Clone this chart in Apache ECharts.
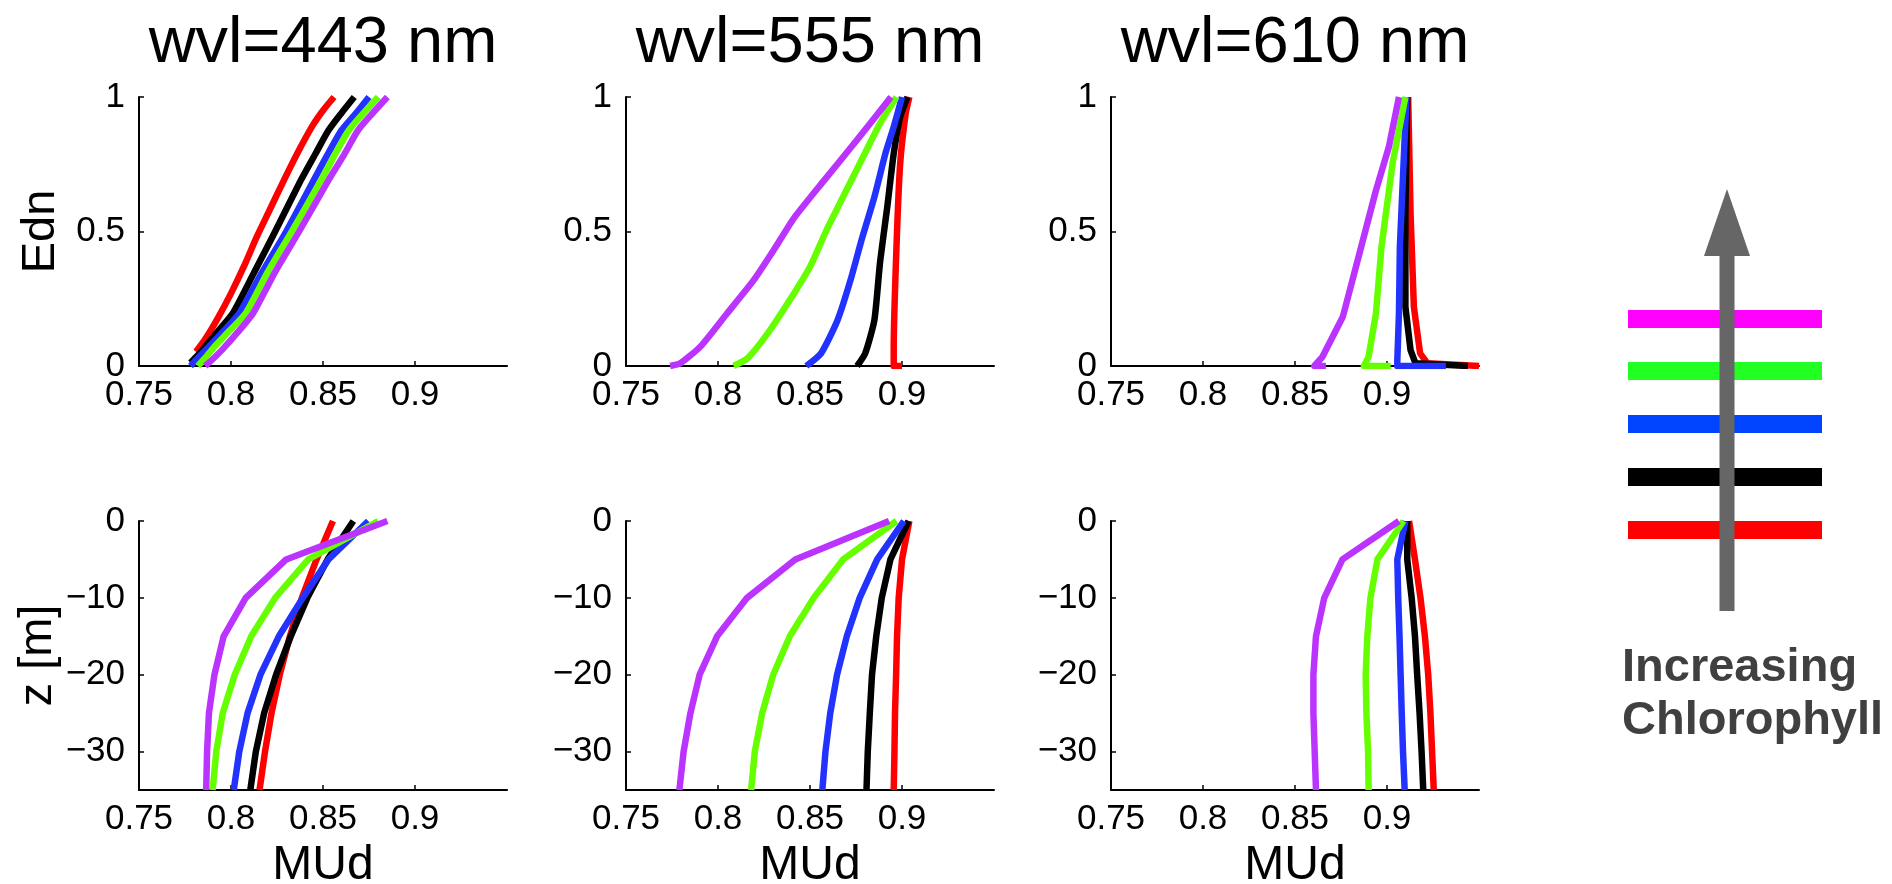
<!DOCTYPE html>
<html><head><meta charset="utf-8">
<script src="https://cdn.jsdelivr.net/npm/echarts@6/dist/echarts.min.js"></script>
<style>html,body{margin:0;padding:0;background:#fff}#c{width:1892px;height:884px}</style>
</head><body><div id="c"></div>
<script>
// ---------------- data ----------------
const panelTitles = ['wvl=443 nm', 'wvl=555 nm', 'wvl=610 nm'];
const chlLevels = ['Chl level 1', 'Chl level 2', 'Chl level 3', 'Chl level 4', 'Chl level 5'];
const lineColors = ['#ff0000', '#000000', '#2233ff', '#66ff00', '#bb33ff'];
const legendColors = ['#ff0000', '#000000', '#0044ff', '#22ff22', '#ff00ff'];
const legendLabel = ['Increasing', 'Chlorophyll'];
const mudTicks = [0.75, 0.8, 0.85, 0.9];
const ednTicks = [0, 0.5, 1];
const depthTicks = [0, -10, -20, -30];
const depth = [0, -5, -10, -15, -20, -25, -30, -35];

// Edn vs MUd : [MUd, Edn] pairs, one list per chlorophyll level (red, black, blue, green, purple)
const ednMud443 = [
  [[0.856,1.0],[0.850,0.95],[0.844,0.89],[0.836,0.79],[0.828,0.68],[0.821,0.58],[0.814,0.48],[0.807,0.37],[0.800,0.27],[0.793,0.18],[0.786,0.10],[0.781,0.053]],
  [[0.867,1.0],[0.860,0.94],[0.853,0.876],[0.846,0.79],[0.838,0.691],[0.824,0.5],[0.812,0.34],[0.801,0.196],[0.793,0.13],[0.786,0.072],[0.782,0.04],[0.778,0.012]],
  [[0.875,1.0],[0.868,0.94],[0.860,0.876],[0.852,0.78],[0.845,0.691],[0.830,0.5],[0.817,0.35],[0.8045,0.196],[0.796,0.13],[0.788,0.072],[0.782,0.03],[0.778,0]],
  [[0.880,1.0],[0.872,0.94],[0.864,0.876],[0.856,0.78],[0.849,0.691],[0.833,0.5],[0.820,0.35],[0.808,0.196],[0.799,0.13],[0.791,0.072],[0.786,0.03],[0.782,0]],
  [[0.885,1.0],[0.877,0.94],[0.869,0.876],[0.861,0.78],[0.853,0.691],[0.837,0.5],[0.824,0.35],[0.812,0.196],[0.803,0.12],[0.795,0.059],[0.790,0.025],[0.786,0]]
];
const ednMud555 = [
  [[0.904,1.0],[0.902,0.938],[0.899,0.752],[0.897,0.443],[0.8955,0.072],[0.8955,0.0],[0.900,0.0]],
  [[0.903,1.0],[0.899,0.926],[0.8955,0.790],[0.892,0.592],[0.888,0.381],[0.885,0.171],[0.880,0.047],[0.8756,0]],
  [[0.900,1.0],[0.8955,0.889],[0.891,0.790],[0.885,0.629],[0.878,0.468],[0.872,0.319],[0.865,0.171],[0.856,0.047],[0.848,0]],
  [[0.897,1.0],[0.888,0.901],[0.877,0.752],[0.868,0.629],[0.859,0.505],[0.850,0.369],[0.839,0.245],[0.827,0.121],[0.816,0.028],[0.8085,0]],
  [[0.894,1.0],[0.8754,0.839],[0.8578,0.691],[0.8411,0.548],[0.8303,0.431],[0.8194,0.319],[0.805,0.196],[0.7904,0.072],[0.7795,0.01],[0.774,0]]
];
const ednMud610 = [
  [[0.9115,1.0],[0.9128,0.567],[0.9146,0.220],[0.918,0.047],[0.922,0.01],[0.950,0]],
  [[0.911,1.0],[0.910,0.567],[0.910,0.220],[0.9128,0.059],[0.9155,0.01],[0.944,0]],
  [[0.9106,1.0],[0.909,0.752],[0.907,0.443],[0.9065,0.196],[0.9056,0.02],[0.9056,0],[0.932,0]],
  [[0.910,1.0],[0.903,0.752],[0.897,0.443],[0.894,0.196],[0.890,0.035],[0.8875,0],[0.902,0]],
  [[0.9065,1.0],[0.901,0.814],[0.894,0.653],[0.885,0.418],[0.876,0.183],[0.865,0.035],[0.8605,0],[0.8668,0]]
];

// MUd at each depth in `depth` (red, black, blue, green, purple)
const zMud443 = [
  [0.8554,0.8465,0.8385,0.832,0.8265,0.822,0.8185,0.8155],
  [0.8665,0.8525,0.8415,0.8325,0.8245,0.818,0.8135,0.8105],
  [0.8746,0.853,0.839,0.826,0.816,0.809,0.8045,0.8015],
  [0.880,0.842,0.824,0.811,0.802,0.7955,0.792,0.790],
  [0.885,0.830,0.808,0.796,0.791,0.788,0.787,0.7865]
];
const zMud555 = [
  [0.904,0.900,0.8982,0.8973,0.8968,0.8962,0.8959,0.8955],
  [0.9036,0.8937,0.889,0.886,0.8837,0.8825,0.8814,0.8807],
  [0.901,0.8865,0.877,0.870,0.8647,0.861,0.8584,0.8567],
  [0.897,0.868,0.852,0.839,0.830,0.824,0.820,0.818],
  [0.893,0.842,0.8158,0.7995,0.790,0.785,0.7813,0.779]
];
const zMud610 = [
  [0.912,0.9152,0.9182,0.9206,0.9224,0.9236,0.9245,0.9254],
  [0.911,0.911,0.9134,0.9152,0.9164,0.9177,0.9188,0.9197],
  [0.910,0.9056,0.9061,0.9068,0.9074,0.908,0.9087,0.9096],
  [0.909,0.8948,0.891,0.8893,0.8884,0.8888,0.8897,0.890],
  [0.9065,0.8758,0.8659,0.8614,0.860,0.860,0.8607,0.8614]
];

// ---------------- layout ----------------
const FONT = "'Liberation Sans', Arial, Helvetica, sans-serif";
const colLeft = [139, 626, 1111];
const rowTop = [97, 521];
const GW = 368, GH = 269;
const TICK_FS = 35;

const topData = [ednMud443, ednMud555, ednMud610];
const botData = [zMud443, zMud555, zMud610];

const grids = [], xAxes = [], yAxes = [], series = [];
const minus = v => (v < 0 ? '\u2212' + Math.abs(v) : String(v));

for (let r = 0; r < 2; r++) {
  for (let c = 0; c < 3; c++) {
    const gi = r * 3 + c;
    grids.push({ left: colLeft[c], top: rowTop[r], width: GW, height: GH, outerBoundsMode: 'none', containLabel: false });
    const axisLine = { show: true, onZero: false, lineStyle: { color: '#000', width: 2 } };
    xAxes.push({
      type: 'value', gridIndex: gi, min: 0.75, max: 0.95,
      axisLine: axisLine,
      axisTick: { show: true, inside: true, length: 5, customValues: mudTicks, lineStyle: { color: '#000', width: 1.5 } },
      axisLabel: { customValues: mudTicks, formatter: v => String(v), color: '#000', fontSize: TICK_FS, fontFamily: FONT, margin: 12 },
      splitLine: { show: false },
      name: r === 1 ? 'MUd' : '', nameLocation: 'middle', nameGap: 52,
      nameTextStyle: { color: '#000', fontSize: 48, fontFamily: FONT }
    });
    if (r === 0) {
      yAxes.push({
        type: 'value', gridIndex: gi, min: 0, max: 1,
        axisLine: axisLine,
        axisTick: { show: true, inside: true, length: 5, customValues: ednTicks, lineStyle: { color: '#000', width: 1.5 } },
        axisLabel: { customValues: ednTicks, formatter: v => String(v), color: '#000', fontSize: TICK_FS, fontFamily: FONT, margin: 14 },
        splitLine: { show: false },
        name: c === 0 ? 'Edn' : '', nameLocation: 'middle', nameGap: 74, nameRotate: 90,
        nameTextStyle: { color: '#000', fontSize: 47, fontFamily: FONT }
      });
    } else {
      yAxes.push({
        type: 'value', gridIndex: gi, min: -35, max: 0,
        axisLine: axisLine,
        axisTick: { show: true, inside: true, length: 5, customValues: depthTicks, lineStyle: { color: '#000', width: 1.5 } },
        axisLabel: { customValues: depthTicks, formatter: minus, color: '#000', fontSize: TICK_FS, fontFamily: FONT, margin: 14 },
        splitLine: { show: false },
        name: c === 0 ? 'z [m]' : '', nameLocation: 'middle', nameGap: 74, nameRotate: 90,
        nameTextStyle: { color: '#000', fontSize: 47, fontFamily: FONT }
      });
    }
    for (let k = 0; k < 5; k++) {
      const data = r === 0 ? topData[c][k] : botData[c][k].map((m, i) => [m, depth[i]]);
      series.push({
        type: 'line', name: chlLevels[k], xAxisIndex: gi, yAxisIndex: gi,
        data: data, showSymbol: false, symbol: 'none',
        smooth: (r === 0 && c < 2) ? 0.2 : false,
        lineStyle: { color: lineColors[k], width: 6.5, cap: 'butt', join: 'round' },
        itemStyle: { color: lineColors[k] }, z: 3 + k
      });
    }
  }
}

// titles and legend graphics
const graphics = [];
panelTitles.forEach((t, c) => {
  graphics.push({ type: 'text', x: colLeft[c] + GW / 2, y: 44,
    style: { text: t, fill: '#000', font: '65px ' + FONT, textAlign: 'center', textVerticalAlign: 'middle' } });
});
// legend bars: top to bottom magenta, green, blue, black, red
const barCenters = [319, 371, 424, 477, 530];
for (let k = 0; k < 5; k++) {
  graphics.push({ type: 'rect', shape: { x: 1628, y: barCenters[4 - k] - 9, width: 194, height: 18 },
    style: { fill: legendColors[k] }, z: 1 });
}
graphics.push({ type: 'rect', shape: { x: 1719.5, y: 254, width: 15, height: 357 }, style: { fill: '#666666' }, z: 2 });
graphics.push({ type: 'polygon', shape: { points: [[1704, 256], [1750, 256], [1727, 189]] }, style: { fill: '#666666' }, z: 2 });
graphics.push({ type: 'text', x: 1622, y: 668, style: { text: legendLabel[0], fill: '#404040', font: 'bold 47px ' + FONT, textAlign: 'left', textVerticalAlign: 'middle' }, z: 2 });
graphics.push({ type: 'text', x: 1622, y: 721, style: { text: legendLabel[1], fill: '#404040', font: 'bold 47px ' + FONT, textAlign: 'left', textVerticalAlign: 'middle' }, z: 2 });

const chart = echarts.init(document.getElementById('c'), null, { renderer: 'canvas' });
chart.setOption({
  backgroundColor: '#ffffff',
  animation: false,
  grid: grids, xAxis: xAxes, yAxis: yAxes, series: series,
  graphic: graphics
});
</script></body></html>
